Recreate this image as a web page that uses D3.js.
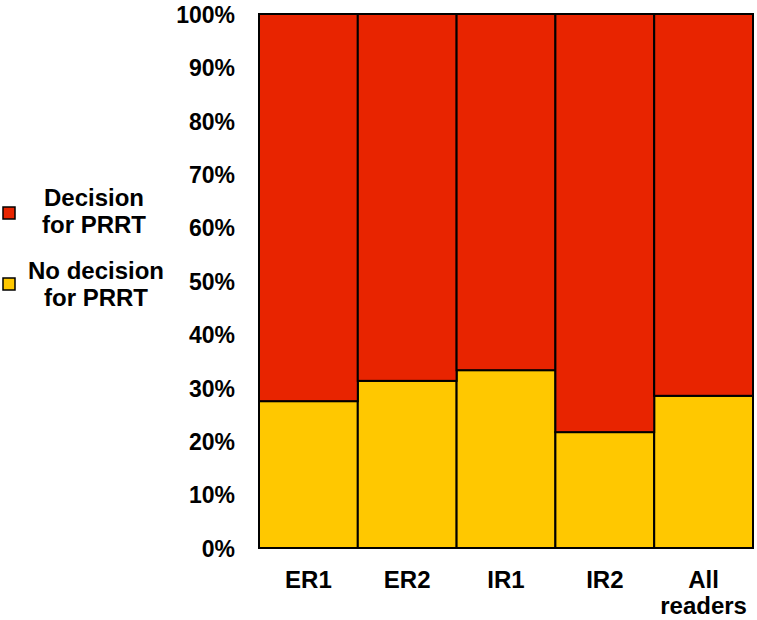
<!DOCTYPE html>
<html>
<head>
<meta charset="utf-8">
<script src="https://cdn.jsdelivr.net/npm/d3@7"></script>
<style>
  body { margin: 0; background: #fff; }
  text { font-family: "Liberation Sans", Arial, sans-serif; font-weight: bold; fill: #000; }
</style>
</head>
<body>
<svg id="chart" width="757" height="620"></svg>
<script>
// readers and share of "no decision" (percent); the rest is "decision"
const categories = ["ER1", "ER2", "IR1", "IR2", "All readers"];
const noDecision = [27.5, 31.3, 33.3, 21.7, 28.5];
const decision = noDecision.map(v => 100 - v);
const yTicks = [0, 10, 20, 30, 40, 50, 60, 70, 80, 90, 100];
const seriesNames = ["Decision for PRRT", "No decision for PRRT"];
const seriesColors = ["#e82400", "#ffc800"];

const svg = d3.select("#chart");
const margin = { top: 14, right: 4, bottom: 72, left: 259 };
const width = 757 - margin.left - margin.right;
const height = 620 - margin.top - margin.bottom;

const chart = svg.append("g").attr("transform", `translate(${margin.left},${margin.top})`);

const x = d3.scaleBand().domain(categories).range([0, width]).paddingInner(0).paddingOuter(0);
const y = d3.scaleLinear().domain([0, 100]).range([height, 0]);

const rows = categories.map((c, i) => ({ cat: c, no: noDecision[i], yes: decision[i] }));

// no decision (bottom)
chart.selectAll(".no").data(rows).join("rect")
  .attr("class", "no")
  .attr("x", d => x(d.cat))
  .attr("width", x.bandwidth())
  .attr("y", d => y(d.no))
  .attr("height", d => y(0) - y(d.no))
  .attr("fill", seriesColors[1])
  .attr("stroke", "#000")
  .attr("stroke-width", 2);

// decision (top)
chart.selectAll(".yes").data(rows).join("rect")
  .attr("class", "yes")
  .attr("x", d => x(d.cat))
  .attr("width", x.bandwidth())
  .attr("y", d => y(d.no + d.yes))
  .attr("height", d => y(d.no) - y(d.no + d.yes))
  .attr("fill", seriesColors[0])
  .attr("stroke", "#000")
  .attr("stroke-width", 2);

// y axis labels
const yAxis = chart.append("g")
  .call(d3.axisLeft(y).tickValues(yTicks).tickFormat(d => d + "%").tickSize(0).tickPadding(24));
yAxis.select(".domain").remove();
yAxis.selectAll("text").style("font-size", "23px").style("font-family", null).attr("dy", "0.36em");

// x axis labels (wrapped into one text per line)
const xAxis = chart.append("g")
  .attr("transform", `translate(0,${height})`)
  .call(d3.axisBottom(x).tickSize(0).tickPadding(0).tickFormat(""));
xAxis.select(".domain").remove();
xAxis.selectAll(".tick").each(function(d) {
  const words = d.split(" ");
  words.forEach((w, i) => {
    d3.select(this).append("text")
      .attr("text-anchor", "middle")
      .attr("x", 0).attr("y", 40 + i * 26)
      .style("font-size", "24px")
      .text(w);
  });
});

// legend
const legend = svg.append("g");
const legendRows = [
  { sq: 207, cx: 94, lines: [206, 233] },
  { sq: 278, cx: 96, lines: [279, 306] }
];
seriesNames.forEach((name, i) => {
  const r = legendRows[i];
  legend.append("rect")
    .attr("x", 3).attr("y", r.sq).attr("width", 12).attr("height", 12)
    .attr("fill", seriesColors[i]).attr("stroke", "#000").attr("stroke-width", 1.5);
  const parts = i === 0 ? ["Decision", "for PRRT"] : ["No decision", "for PRRT"];
  parts.forEach((p, j) => {
    legend.append("text")
      .attr("x", r.cx).attr("y", r.lines[j])
      .attr("text-anchor", "middle")
      .style("font-size", "24px")
      .text(p);
  });
});
</script>
</body>
</html>
